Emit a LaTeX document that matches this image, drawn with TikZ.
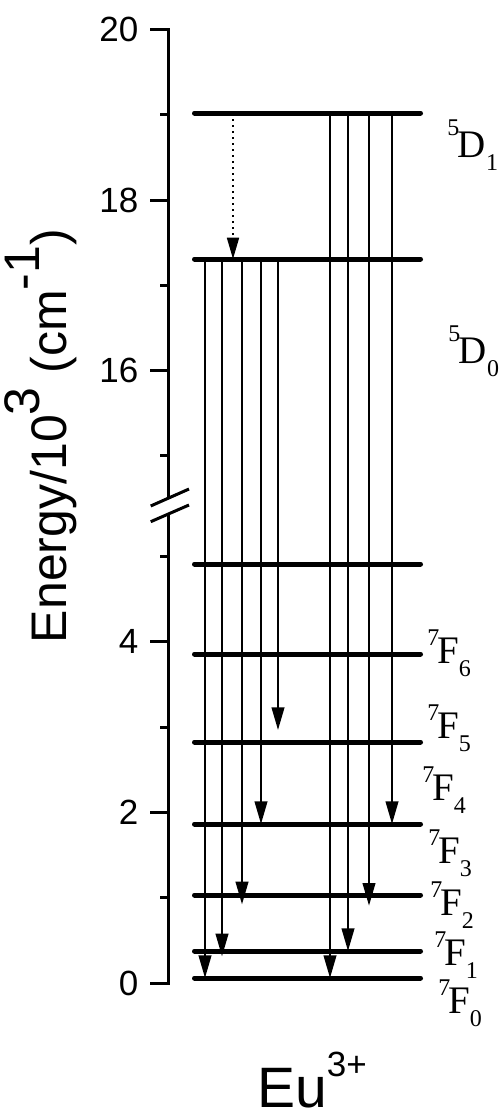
\documentclass[tikz,border=0pt]{standalone}
\usepackage{fontspec}
\setmainfont{Liberation Sans}
\newfontfamily\serif{Liberation Serif}
\usetikzlibrary{arrows.meta}
\newcommand\supx[2]{\raisebox{#1}{\fontsize{18}{18}\selectfont #2}}
\newcommand\subx[1]{\raisebox{-10pt}{\fontsize{18}{18}\selectfont #1}}
\newcommand\termF[1]{\supx{13pt}{7}\kern-1.5pt F\subx{#1}}
\newcommand\termD[1]{\supx{16pt}{5}\kern-1pt D\subx{#1}}
\begin{document}
\begin{tikzpicture}[x=0.75pt,y=-0.75pt,
  axis/.style={line width=2.25pt},
  level/.style={line width=3.75pt, line cap=round},
  trans/.style={line width=1.5pt, -{Triangle[length=17pt,width=9.5pt]}},
  relaxarrow/.style={line width=1.3pt, dash pattern=on 1.5pt off 3pt, -{Triangle[length=16pt,width=9pt]}},
  ticklab/.style={anchor=east, inner sep=0pt, font=\fontsize{26.25}{28}\selectfont},
  term/.style={anchor=base west, inner sep=0pt, font=\serif\fontsize{29.25}{30}\selectfont}]
\useasboundingbox (0,0) rectangle (501,1115);
% axis
\draw[axis] (150,29) -- (168.5,29) -- (168.5,498);
\draw[axis] (168.5,514) -- (168.5,983) -- (150,983);
\draw[axis] (150.7,506) -- (189,489);
\draw[axis] (150.7,521.7) -- (189,505);
\foreach \yy/\lab in {29/20,200/18,370/16,641/4,812/2,983/0}{
  \draw[axis] (150,\yy) -- (168.5,\yy);
  \node[ticklab] (tl\lab) at (138.5,\yy) {\lab};
}
\foreach \yy in {114.5,285,455.5,556,727,897.5}
  \draw[axis] (160,\yy) -- (168.5,\yy);
\node[rotate=90, anchor=base, inner sep=0pt, font=\fontsize{37.5}{38}\selectfont] (ytitle) at (66,436)
  {Energy/10\raisebox{20pt}{3} (cm\raisebox{20pt}{-1})};
% levels
\foreach \n/\yy in {D1/113,D0/259,X/564,F6/654,F5/742,F4/824,F3/895,F2/951,F1/978}{
  \coordinate (\n l) at (194.5,\yy);
  \coordinate (\n r) at (420.5,\yy);
  \draw[level] (\n l) -- (\n r);
}
% columns
\foreach \c/\xx in {a/205,b/222,c/242,d/261,e/278,f/330,g/348,h/369,i/392,k/233}
  \coordinate (\c) at (\xx,0);
% relaxation
\draw[relaxarrow] (k|-D1l) -- (k|-D0l);
% transitions from 5D0
\draw[trans] (a|-D0l) -- (a|-F1l);
\draw[trans, shorten >=-4] (b|-D0l) -- (b|-F2l);
\draw[trans, shorten >=-7] (c|-D0l) -- (c|-F3l);
\draw[trans] (d|-D0l) -- (d|-F4l);
\draw[trans, shorten >=9] (e|-D0l) -- (e|-F5l);
% transitions from 5D1
\draw[trans] (f|-D1l) -- (f|-F1l);
\draw[trans] (g|-D1l) -- (g|-F2l);
\draw[trans, shorten >=-8] (h|-D1l) -- (h|-F3l);
\draw[trans] (i|-D1l) -- (i|-F4l);
% labels
\node[term] (tD1) at (447,157) {\termD{1}};
\node[term] (tD0) at (448,363) {\termD{0}};
\node[term] (tF6) at (427,663) {\termF{6}};
\node[term] (tF5) at (427,738) {\termF{5}};
\node[term] (tF4) at (422,800) {\termF{4}};
\node[term] (tF3) at (428,863) {\termF{3}};
\node[term] (tF2) at (430,915) {\termF{2}};
\node[term] (tF1) at (434,965) {\termF{1}};
\node[term] (tF0) at (438,1013) {\termF{0}};
\node[anchor=base west, inner sep=0pt, font=\fontsize{42.75}{44}\selectfont] (eu) at (257,1107)
  {Eu\raisebox{23pt}{\fontsize{26.25}{27}\selectfont 3+}};
\end{tikzpicture}
\end{document}
